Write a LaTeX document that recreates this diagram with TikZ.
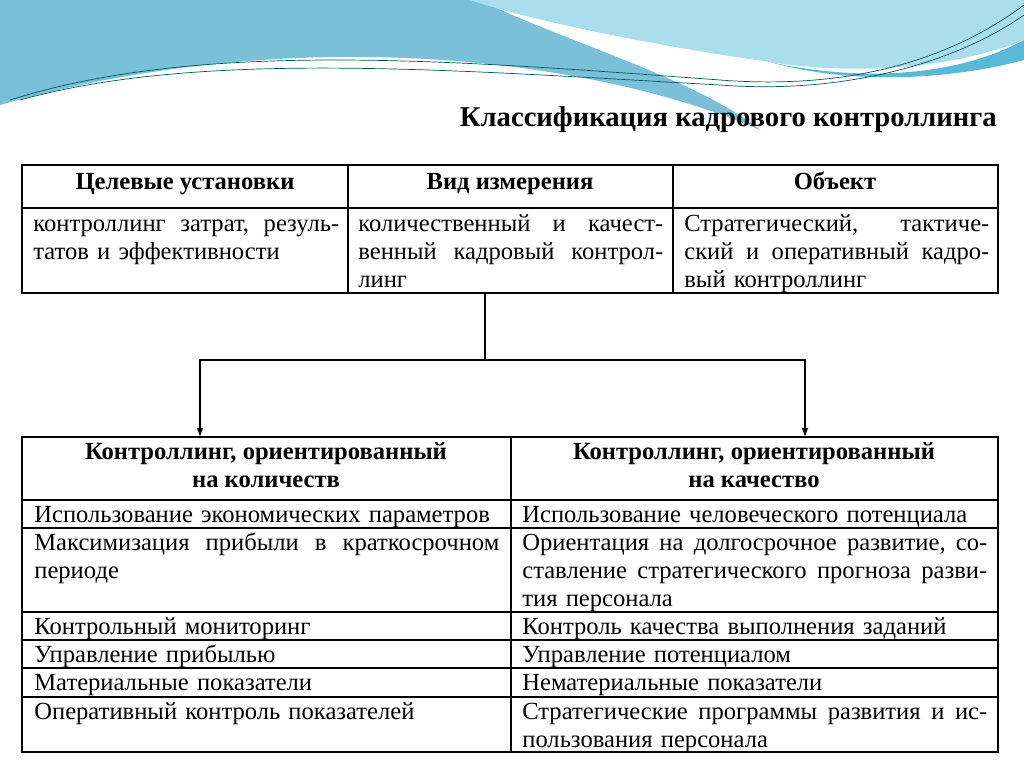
\documentclass[tikz,border=0pt]{standalone}
\usepackage{fontspec}
\setmainfont{Liberation Serif}
\definecolor{waveblue}{RGB}{122,192,216}
\definecolor{wavelight}{RGB}{170,222,236}
\definecolor{wavemid}{RGB}{90,185,215}
\tikzset{
  frame/.style={thick},
  celltext/.style={anchor=north west,inner xsep=0pt,inner ysep=0pt,align=left,font=\fontsize{14}{16}\selectfont,execute at begin node=\strut},
  headtext/.style={align=center,inner sep=0pt,font=\fontsize{14}{16}\selectfont\bfseries,execute at begin node=\strut},
  link/.style={thick,-latex}
}
\begin{document}
\begin{tikzpicture}[x=0.02cm,y=-0.02cm]
  \useasboundingbox (0,0) rectangle (1024,768);
  % Decorative waves
  \fill[waveblue] (0,0) -- (480,0) .. controls (560,40) and (700,80) .. (760,130)
     .. controls (600,60) and (300,20) .. (0,105) -- cycle;
  \fill[wavelight] (470,0) -- (1024,0) -- (1024,40) .. controls (950,70) and (850,75) .. (770,62)
     .. controls (650,45) and (530,20) .. (470,0) -- cycle;
  \fill[wavemid] (1024,40) .. controls (950,80) and (850,80) .. (770,62) .. controls (850,85) and (950,80) .. (1024,60) -- cycle;
  \draw[teal!70!black,thin] (10,100) .. controls (200,40) and (450,60) .. (720,80) .. controls (850,90) and (950,60) .. (1024,5);
  \draw[teal!70!black,thin] (20,100) .. controls (200,50) and (450,70) .. (720,85) .. controls (850,95) and (960,60) .. (1024,15);

  % Title
  \node[font=\fontsize{16.3}{19}\selectfont\bfseries,anchor=east] (title) at (1003,120) {Классификация кадрового контроллинга};

  % Top table
  \draw[frame] (22,165) rectangle (998,293);
  \draw[frame] (22,208) -- (998,208);
  \draw[frame] (348,165) -- (348,293);
  \draw[frame] (673,165) -- (673,293);
  \node[headtext] (goalH) at (185,184) {Целевые установки};
  \node[headtext] (measH) at (510,184) {Вид измерения};
  \node[headtext] (objH) at (835,184) {Объект};
  \node[celltext,text width=306*0.02cm] (goal) at (33,211) {контроллинг\hfill затрат,\hfill резуль-\\татов и эффективности};
  \node[celltext,text width=305*0.02cm] (meas) at (358,211) {количественный\hfill и\hfill качест-\\венный\hfill кадровый\hfill контрол-\\линг};
  \node[celltext,text width=305*0.02cm] (obj) at (684,211) {Стратегический,\hfill тактиче-\\ский\hfill и\hfill оперативный\hfill кадро-\\вый контроллинг};

  % Bottom table
  \draw[frame] (22,437) rectangle (998,752);
  \draw[frame] (511,437) -- (511,752);
  \foreach \y in {500,528,612,640,668,697}
    \draw[frame] (22,\y) -- (998,\y);
  \node[headtext] (qntH) at (266,469) {Контроллинг, ориентированный\\на количеств};
  \node[headtext] (qlyH) at (754,469) {Контроллинг, ориентированный\\на качество};
  \foreach \name/\y/\ltext/\rtext in {
    r1/502/{Использование экономических параметров}/{Использование человеческого потенциала},
    r2/530/{Максимизация\hfill прибыли\hfill в\hfill краткосрочном\\периоде}/{Ориентация\hfill на\hfill долгосрочное\hfill развитие,\hfill со-\\ставление\hfill стратегического\hfill прогноза\hfill разви-\\тия персонала},
    r3/614/{Контрольный мониторинг}/{Контроль качества выполнения заданий},
    r4/642/{Управление прибылью}/{Управление потенциалом},
    r5/670/{Материальные показатели}/{Нематериальные показатели},
    r6/699/{Оперативный контроль показателей}/{Стратегические\hfill программы\hfill развития\hfill и\hfill ис-\\пользования персонала}}{
    \node[celltext,text width=465*0.02cm] (\name L) at (34,\y) {\ltext};
    \node[celltext,text width=465*0.02cm] (\name R) at (522,\y) {\rtext};
  }

  % Connectors
  \coordinate (split) at (485,360);
  \coordinate (qntTop) at (200,437);
  \coordinate (qlyTop) at (805,437);
  \draw[thick] (485,293) -- (split);
  \draw[link] (split) -| (qntTop);
  \draw[link] (split) -| (qlyTop);
\end{tikzpicture}
\end{document}
